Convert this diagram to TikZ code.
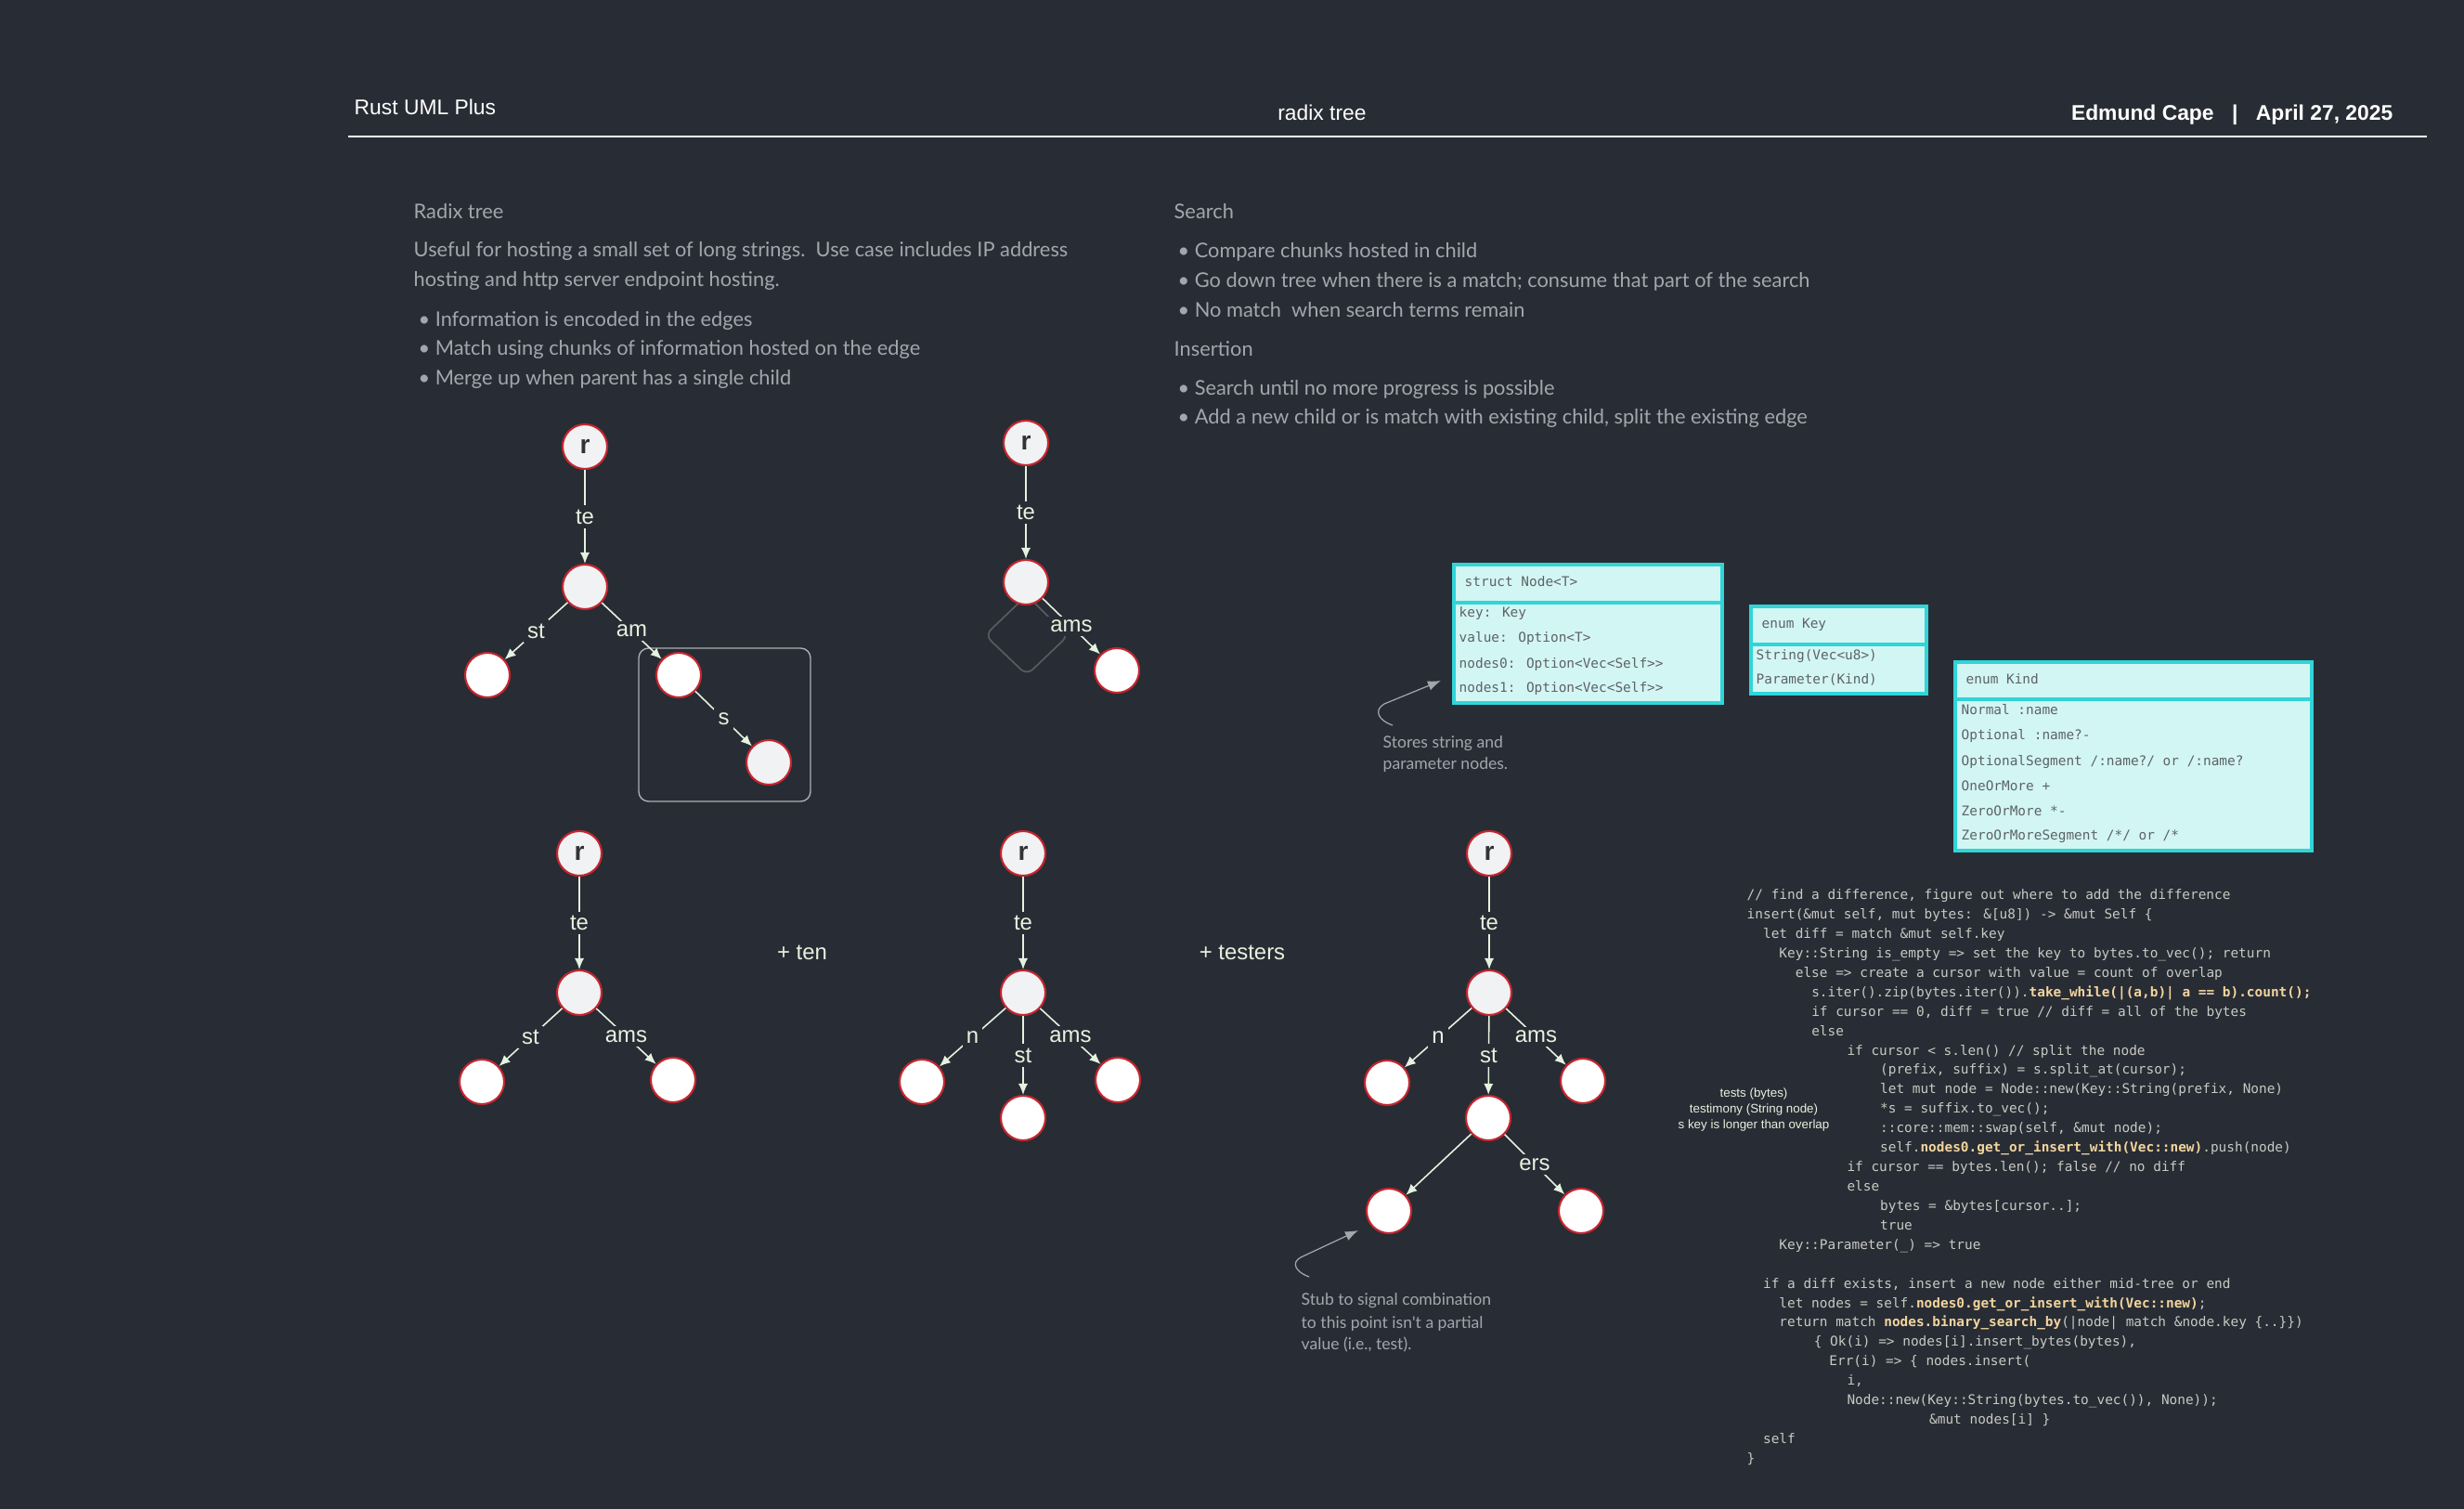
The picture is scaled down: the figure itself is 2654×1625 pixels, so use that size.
\documentclass[tikz,border=0pt]{standalone}
\usepackage{fontspec}
\setmainfont{Liberation Sans}
\newfontfamily\latofont{Lato}
\newfontfamily\codefont{DejaVu Sans Mono}
\usepackage{xcolor}
\usetikzlibrary{arrows.meta}

\definecolor{bgcol}{HTML}{282C34}
\definecolor{edgecol}{HTML}{E4F3E0}
\definecolor{nodered}{HTML}{C3262F}
\definecolor{nodegrey}{HTML}{F1F2F4}
\definecolor{notecol}{HTML}{A2A6AD}
\definecolor{umlline}{HTML}{30D5D8}
\definecolor{umlfill}{HTML}{D2F6F4}
\definecolor{umltext}{HTML}{5E6268}
\definecolor{codecol}{HTML}{C8CAC3}
\definecolor{hlcol}{HTML}{F3D59E}

\newlength\cw
\setlength\cw{2.472pt}
\newcommand\cind[1]{\hspace*{#1\cw}}
\newcommand\hlcode[1]{{\bfseries\color{hlcol}#1}}

\begin{document}
\begin{tikzpicture}[x=0.01cm, y=-0.01cm,
	inode/.style = {circle, draw=nodered, line width=0.6pt, fill=nodegrey,
		minimum size=4.8mm, inner sep=0pt, text=black!80,
		font=\fontsize{8pt}{9pt}\selectfont\bfseries},
	lnode/.style = {inode, fill=white},
	link/.style = {draw=edgecol, line width=0.45pt, -{Latex[length=3.4pt,width=2.9pt]}},
	elabel/.style = {fill=bgcol, text=edgecol, inner sep=1.2pt,
		font=\fontsize{6.8pt}{8pt}\selectfont},
	hdr/.style = {text=white, inner sep=0pt, font=\fontsize{6.5pt}{8pt}\selectfont},
	txt/.style = {text=notecol, anchor=base west, inner sep=0pt,
		font=\latofont\fontsize{6.2pt}{9.1pt}\selectfont},
	smalltxt/.style = {txt, font=\latofont\fontsize{5pt}{6.8pt}\selectfont},
	pointer/.style = {draw=notecol, line width=0.35pt, -{Latex[length=4pt,width=3pt]}},
	umlbox/.style = {draw=umlline, fill=umlfill, line width=1.1pt},
	umltxt/.style = {text=umltext, anchor=base west, inner sep=0pt,
		font=\codefont\fontsize{4.1pt}{5pt}\selectfont},
	codetext/.style = {text=codecol, align=left, inner sep=0pt,
		font=\codefont\fontsize{4.1pt}{5.95pt}\selectfont}]

\path[use as bounding box, fill=bgcol] (0,0) rectangle (2654,1625);

% header
\node[hdr, anchor=base west] (tool) at (381,124) {Rust UML Plus};
\node[hdr, anchor=base] (title) at (1424,130) {radix tree};
\node[hdr, anchor=base east, font=\fontsize{6.5pt}{8pt}\selectfont\bfseries] (author)
	at (2578,130) {Edmund Cape\hspace{0.85em}|\hspace{0.85em}April 27, 2025};
\coordinate (rulel) at (375,147);
\coordinate (ruler) at (2614,147);
\draw[white, line width=0.6pt] (rulel) -- (ruler);

% left notes
\node[txt] (radixhead) at (445,236) {Radix tree};
\node[txt] (radixp1) at (445,277) {Useful for hosting a small set of long strings.\ \ Use case includes IP address};
\node[txt] (radixp2) at (445,309) {hosting and http server endpoint hosting.};
\node[txt] (radixb1) at (450,352) {\textbullet\hspace{0.25em}Information is encoded in the edges};
\node[txt] (radixb2) at (450,383) {\textbullet\hspace{0.25em}Match using chunks of information hosted on the edge};
\node[txt] (radixb3) at (450,415) {\textbullet\hspace{0.25em}Merge up when parent has a single child};

% right notes
\node[txt] (searchhead) at (1264,236) {Search};
\node[txt] (searchb1) at (1268,278) {\textbullet\hspace{0.25em}Compare chunks hosted in child};
\node[txt] (searchb2) at (1268,310) {\textbullet\hspace{0.25em}Go down tree when there is a match; consume that part of the search};
\node[txt] (searchb3) at (1268,342) {\textbullet\hspace{0.25em}No match\ \ when search terms remain};
\node[txt] (inserthead) at (1264,384) {Insertion};
\node[txt] (insertb1) at (1268,426) {\textbullet\hspace{0.25em}Search until no more progress is possible};
\node[txt] (insertb2) at (1268,457) {\textbullet\hspace{0.25em}Add a new child or is match with existing child, split the existing edge};

% tree 1
\draw[draw=notecol!90, line width=0.4pt, rounded corners=3pt] (688,698) rectangle (873,863);
\node[inode] (r1) at (630,481) {r};
\node[inode] (m1) at (630,632) {};
\node[lnode] (l1) at (525,727) {};
\node[lnode] (a1) at (731,727) {};
\node[inode] (s1) at (828,821) {};
\draw[link] (r1) -- node[elabel] {te} (m1);
\draw[link] (m1) -- node[elabel] {st} (l1);
\draw[link] (m1) -- node[elabel] {am} (a1);
\draw[link] (a1) -- node[elabel] {s} (s1);

% tree 2
\draw[draw=gray!55!bgcol, line width=0.5pt, rounded corners=2.5pt]
	(1128,663) -- (1151,684) -- (1106,727) -- (1061,684) -- (1106,641) -- cycle;
\node[inode] (r2) at (1105,477) {r};
\node[inode] (m2) at (1105,627) {};
\node[lnode] (a2) at (1203,722) {};
\draw[link] (r2) -- node[elabel] {te} (m2);
\draw[link] (m2) -- node[elabel] {ams} (a2);

% tree 3
\node[inode] (r3) at (624,919) {r};
\node[inode] (m3) at (624,1069) {};
\node[lnode] (l3) at (519,1165) {};
\node[lnode] (a3) at (725,1163) {};
\draw[link] (r3) -- node[elabel] {te} (m3);
\draw[link] (m3) -- node[elabel] {st} (l3);
\draw[link] (m3) -- node[elabel] {ams} (a3);

\node[elabel, anchor=base] (addten) at (864,1033) {+ ten};

% tree 4
\node[inode] (r4) at (1102,919) {r};
\node[inode] (m4) at (1102,1069) {};
\node[lnode] (n4) at (993,1165) {};
\node[lnode] (s4) at (1102,1204) {};
\node[lnode] (a4) at (1204,1163) {};
\draw[link] (r4) -- node[elabel] {te} (m4);
\draw[link] (m4) -- node[elabel] {n} (n4);
\draw[link] (m4) -- node[elabel] {st} (s4);
\draw[link] (m4) -- node[elabel] {ams} (a4);

\node[elabel, anchor=base] (addtesters) at (1338,1033) {+ testers};

% tree 5
\node[inode] (r5) at (1604,919) {r};
\node[inode] (m5) at (1604,1069) {};
\node[lnode] (n5) at (1494,1166) {};
\node[lnode] (s5) at (1603,1204) {};
\node[lnode] (a5) at (1705,1164) {};
\node[lnode] (b5) at (1496,1304) {};
\node[lnode] (e5) at (1703,1304) {};
\draw[link] (r5) -- node[elabel] {te} (m5);
\draw[link] (m5) -- node[elabel] {n} (n5);
\draw[link] (m5) -- node[elabel] {st} (s5);
\draw[link] (m5) -- node[elabel] {ams} (a5);
\draw[link] (s5) -- (b5);
\draw[link] (s5) -- node[elabel] {ers} (e5);

% notes on the trees
\node[elabel, anchor=base, fill=none, inner sep=0pt, align=center,
	font=\fontsize{3.8pt}{4.8pt}\selectfont] (testsnote) at (1889,1215)
	{tests (bytes)\\testimony (String node)\\s key is longer than overlap};

\node[smalltxt] (stub1) at (1401,1405) {Stub to signal combination};
\node[smalltxt] (stub2) at (1401,1430) {to this point isn\textquotesingle t a partial};
\node[smalltxt] (stub3) at (1401,1453) {value (i.e., test).};
\coordinate (stubfrom) at (1410,1375);
\coordinate (stubto) at (1463,1325);
\draw[pointer] (stubfrom) .. controls (1396,1370) and (1390,1360) .. (1401,1354) -- (stubto);

\node[smalltxt] (stores1) at (1489,806) {Stores string and};
\node[smalltxt] (stores2) at (1489,829) {parameter nodes.};
\coordinate (storesfrom) at (1500,781);
\coordinate (storesto) at (1552,733);
\draw[pointer] (storesfrom) .. controls (1485,776) and (1479,765) .. (1491,758) -- (storesto);

% uml boxes
\draw[umlbox] (1566,608) rectangle (1855,757);
\draw[umlbox] (1566,649) -- (1855,649);
\node[umltxt] (nodehead) at (1577,632) {struct Node<T>};
\node[umltxt] (nodekey) at (1571,665) {key: Key};
\node[umltxt] (nodeval) at (1571,692) {value: Option<T>};
\node[umltxt] (nodezero) at (1571,720) {nodes0: Option<Vec<Self>{}>};
\node[umltxt] (nodeone) at (1571,746) {nodes1: Option<Vec<Self>{}>};

\draw[umlbox] (1886,653) rectangle (2075,747);
\draw[umlbox] (1886,694) -- (2075,694);
\node[umltxt] (keyhead) at (1897,677) {enum Key};
\node[umltxt] (keystr) at (1891,711) {String(Vec<u8>)};
\node[umltxt] (keypar) at (1891,737) {Parameter(Kind)};

\draw[umlbox] (2106,713) rectangle (2490,916);
\draw[umlbox] (2106,753) -- (2490,753);
\node[umltxt] (kindhead) at (2117,737) {enum Kind};
\node[umltxt] (kinda) at (2112,770) {Normal :name};
\node[umltxt] (kindb) at (2112,797) {Optional :name?-};
\node[umltxt] (kindc) at (2112,824) {OptionalSegment /:name?/ or /:name?};
\node[umltxt] (kindd) at (2112,851) {OneOrMore +};
\node[umltxt] (kinde) at (2112,878) {ZeroOrMore *-};
\node[umltxt] (kindf) at (2112,905) {ZeroOrMoreSegment /*/ or /*};

% insert code
\node[codetext, anchor=north west] (insertfn) at (1881,957) {%
// find a difference, figure out where to add the difference\\
insert(\&mut self, mut bytes: \&[u8]) -> \&mut Self \{\\
\cind{2}let diff = match \&mut self.key\\
\cind{4}Key::String is\_empty => set the key to bytes.to\_vec(); return\\
\cind{6}else => create a cursor with value = count of overlap\\
\cind{8}s.iter().zip(bytes.iter()).\hlcode{take\_while(|(a,b)| a == b).count();}\\
\cind{8}if cursor == 0, diff = true // diff = all of the bytes\\
\cind{8}else\\
\cind{12.4}if cursor < s.len() // split the node\\
\cind{16.5}(prefix, suffix) = s.split\_at(cursor);\\
\cind{16.5}let mut node = Node::new(Key::String(prefix, None)\\
\cind{16.5}*s = suffix.to\_vec();\\
\cind{16.5}::core::mem::swap(self, \&mut node);\\
\cind{16.5}self.\hlcode{nodes0.get\_or\_insert\_with(Vec::new)}.push(node)\\
\cind{12.4}if cursor == bytes.len(); false // no diff\\
\cind{12.4}else\\
\cind{16.5}bytes = \&bytes[cursor..];\\
\cind{16.5}true\\
\cind{4}Key::Parameter(\_) => true\\
\mbox{}\\
\cind{2}if a diff exists, insert a new node either mid-tree or end\\
\cind{4}let nodes = self.\hlcode{nodes0.get\_or\_insert\_with(Vec::new)};\\
\cind{4}return match \hlcode{nodes.binary\_search\_by}(|node| match \&node.key \{..\}\})\\
\cind{8.3}\{ Ok(i) => nodes[i].insert\_bytes(bytes),\\
\cind{10.2}Err(i) => \{ nodes.insert(\\
\cind{12.4}i,\\
\cind{12.4}Node::new(Key::String(bytes.to\_vec()), None));\\
\cind{22.6}\&mut nodes[i] \}\\
\cind{2}self\\
\}};

\end{tikzpicture}
\end{document}
